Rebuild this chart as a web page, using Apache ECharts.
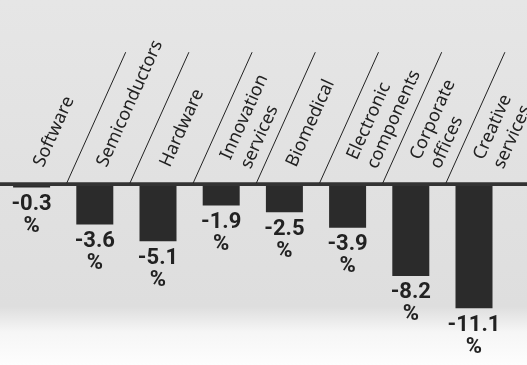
<!DOCTYPE html>
<html>
<head>
<meta charset="utf-8">
<script src="https://cdn.jsdelivr.net/npm/echarts@6/dist/echarts.min.js"></script>
<style>
  html, body { margin: 0; padding: 0; }
  body {
    width: 527px; height: 365px; overflow: hidden;
    background: linear-gradient(to bottom, #e6e6e6 0%, #e1e1e1 50%, #dedede 84%, #f6f6f6 91%, #fdfdfd 100%);
  }
  #chart { width: 527px; height: 365px; }
</style>
</head>
<body>
<div id="chart"></div>
<script>
// Industry sectors and their percentage change
const categories = [
  'Software', 'Semiconductors', 'Hardware', 'Innovation\nservices',
  'Biomedical', 'Electronic\ncomponents', 'Corporate\noffices', 'Creative\nservices'
];
const changes = [-0.3, -3.6, -5.1, -1.9, -2.5, -3.9, -8.2, -11.1];

const INK = '#222222';
const SLANT = 65.75 * Math.PI / 180;

const chart = echarts.init(document.getElementById('chart'), null, { renderer: 'canvas' });

chart.setOption({
  backgroundColor: 'transparent',
  animation: false,
  grid: { left: 0, right: 21.4, top: 184.2, bottom: 46.6, containLabel: false },
  xAxis: {
    type: 'category',
    position: 'top',
    data: categories,
    axisLine: { show: false },
    axisTick: { show: false },
    axisLabel: { show: false },
    splitLine: { show: false }
  },
  yAxis: {
    type: 'value',
    min: -12,
    max: 0,
    show: false
  },
  series: [
    {
      type: 'bar',
      data: changes,
      barWidth: 37,
      itemStyle: { color: '#2b2b2b' },
      z: 2,
      label: {
        show: true,
        position: 'bottom',
        distance: 6,
        formatter: (p) => p.value.toFixed(1) + '\n%',
        color: INK,
        fontFamily: 'Roboto',
        fontWeight: 'bold',
        fontSize: 22,
        lineHeight: 22,
        align: 'center'
      }
    },
    {
      // baseline, slanted separators and slanted sector names
      type: 'custom',
      clip: false,
      z: 3,
      silent: true,
      data: categories.map((c, i) => [i, 0]),
      renderItem: function (params, api) {
        const idx = api.value(0);
        const p = api.coord([idx, 0]);
        const band = api.size([1, 0])[0];
        const children = [];
        if (idx === 0) {
          children.push({
            type: 'line',
            shape: { x1: 0, y1: p[1], x2: api.getWidth(), y2: p[1] },
            style: { stroke: '#333333', lineWidth: 3.7 }
          });
        }
        if (idx > 0) {
          const x0 = p[0] - band / 2 + 3.5;
          children.push({
            type: 'line',
            shape: { x1: x0, y1: p[1] - 1, x2: x0 + 59, y2: p[1] - 132 },
            style: { stroke: INK, lineWidth: 1 }
          });
        }
        const name = categories[idx];
        const n = name.split('\n').length;
        children.push({
          type: 'text',
          x: p[0] + 7 + 7.5 * (n - 1),
          y: p[1] - 18.4 - 2.6 * (n - 1),
          rotation: SLANT,
          style: {
            text: name,
            fill: INK,
            font: '18px "Noto Sans"',
            align: 'left',
            verticalAlign: 'middle',
            lineHeight: 22
          }
        });
        return { type: 'group', children: children };
      }
    }
  ]
});
</script>
</body>
</html>
